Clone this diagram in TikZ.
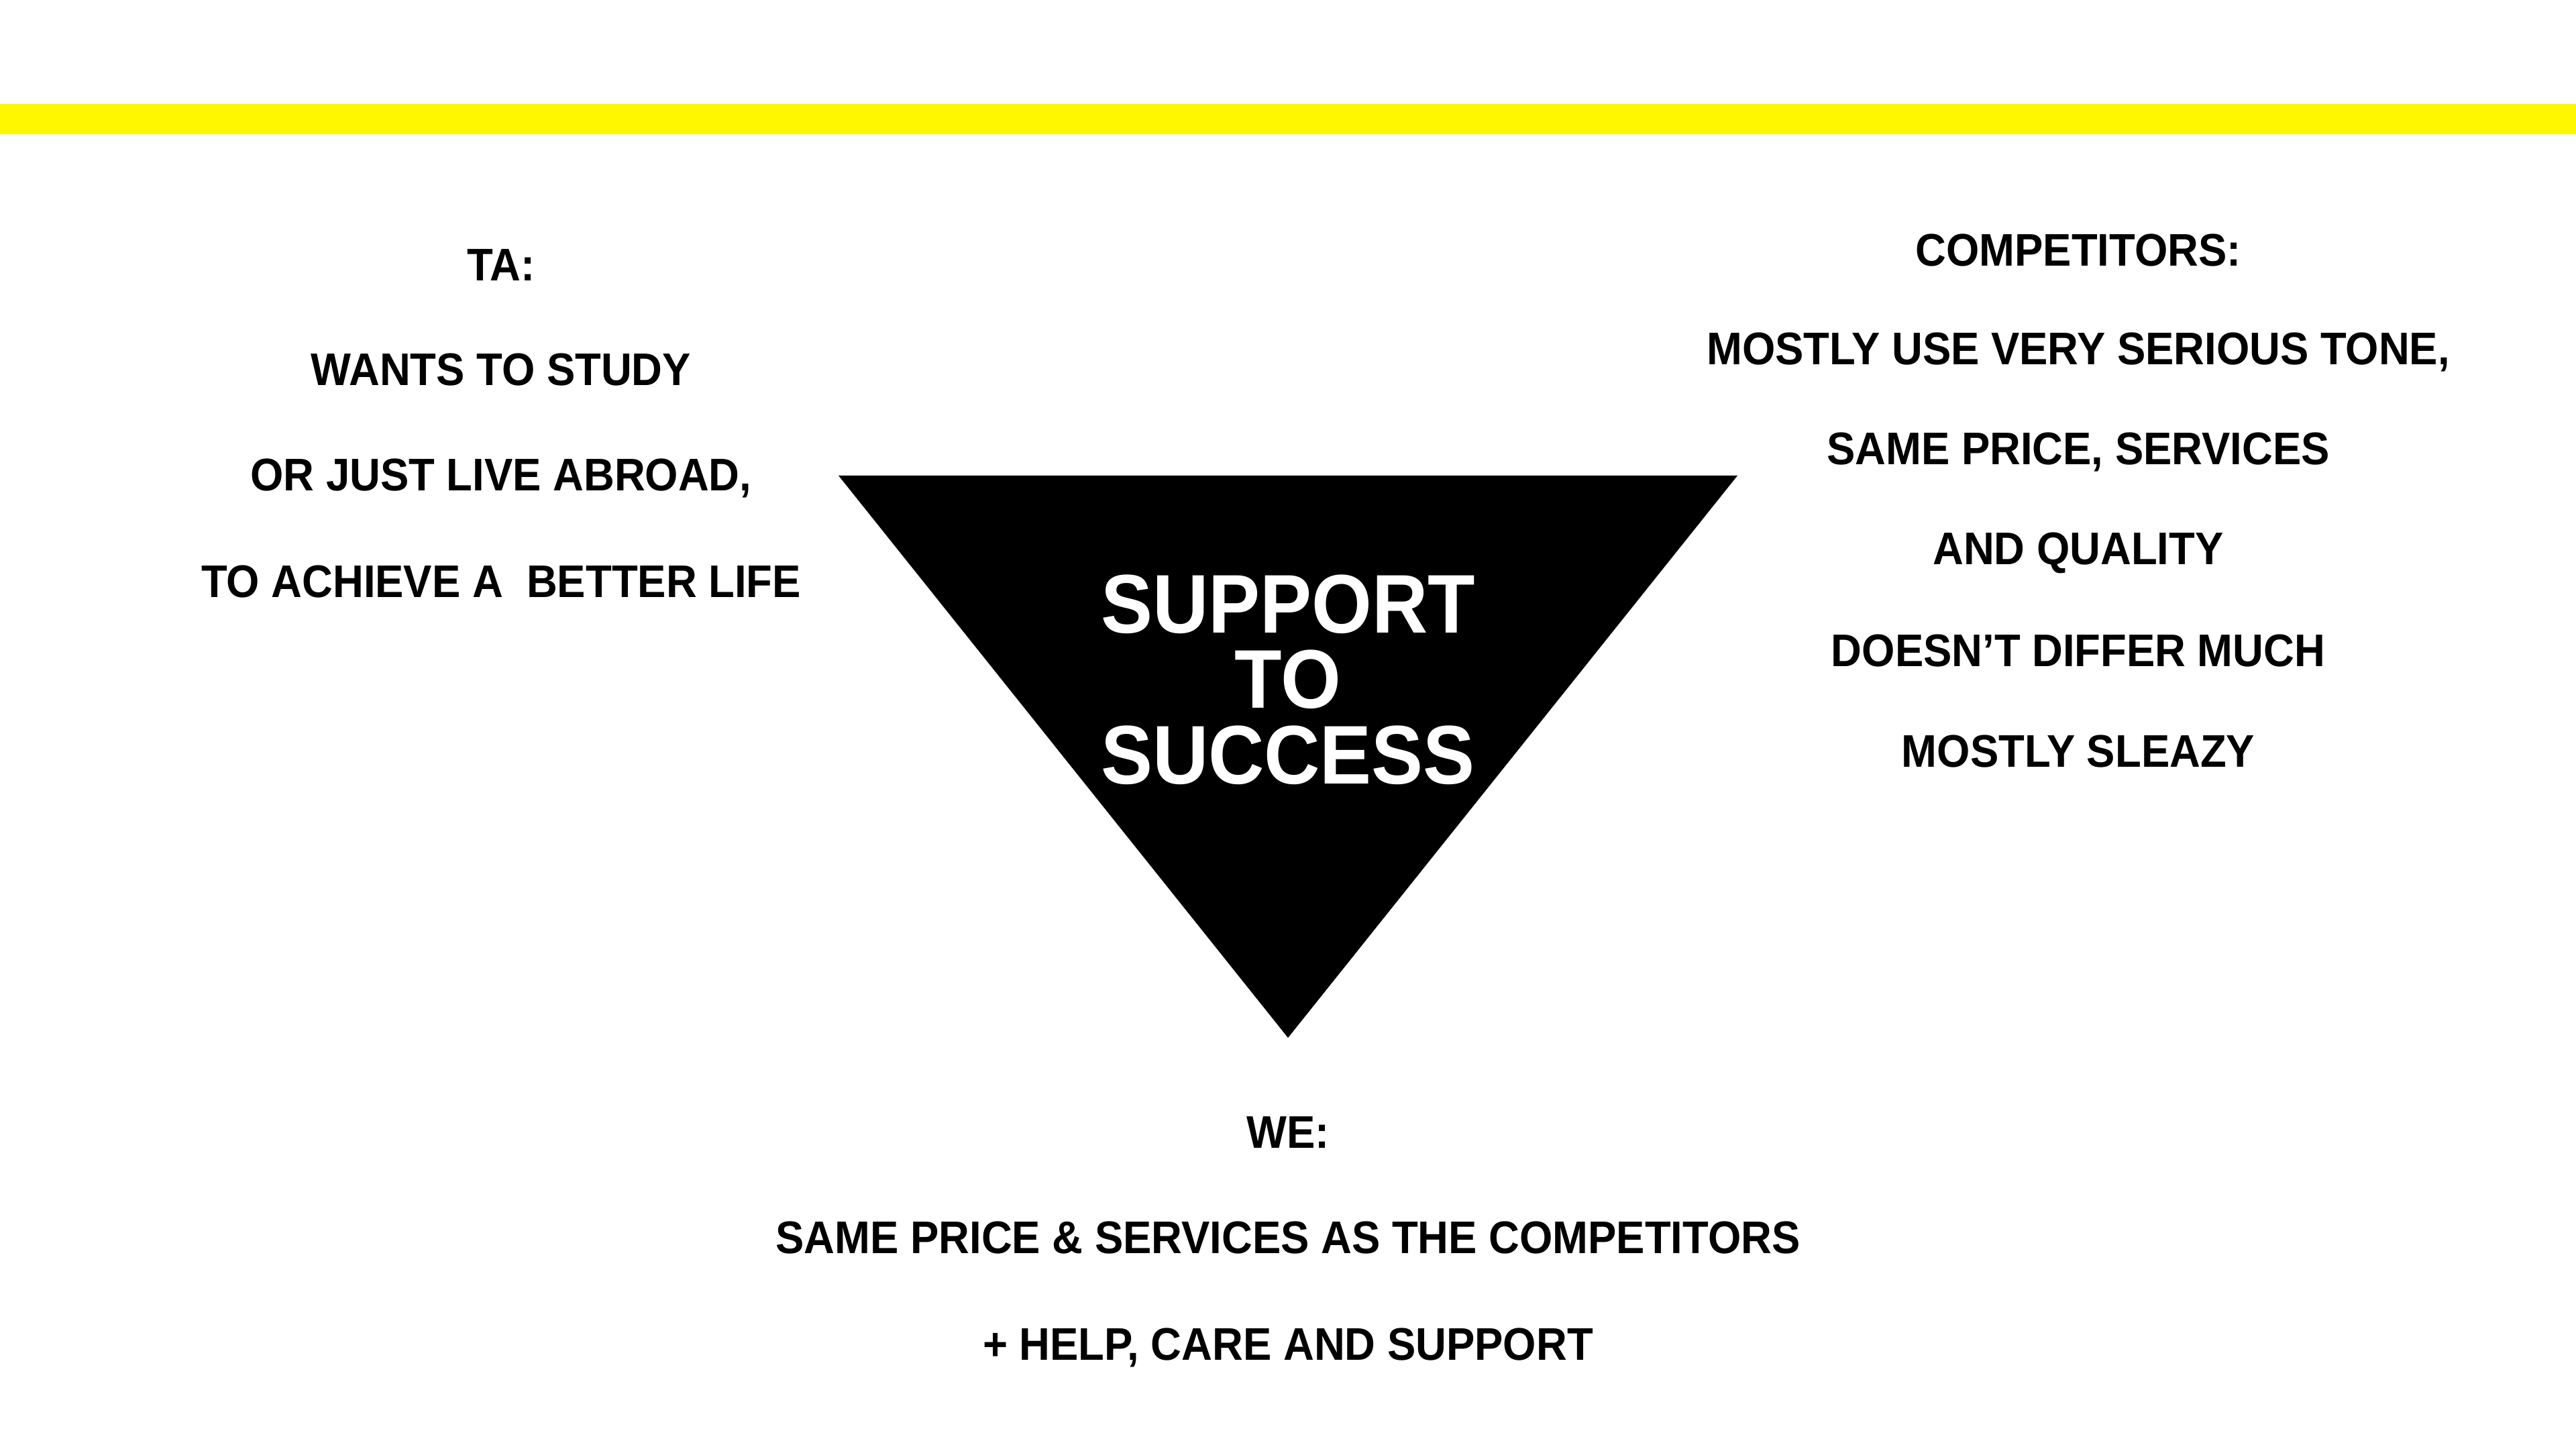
\documentclass[tikz,border=0pt]{standalone}
\usepackage{fontspec}
\newfontfamily\slidefont[FakeStretch=0.93]{Liberation Sans}
\usepackage{tikz}
\definecolor{barYellow}{RGB}{255,247,0}

\begin{document}
\begin{tikzpicture}[
	every node/.style={inner sep=0pt, anchor=base},
	txt/.style={font=\slidefont\bfseries\fontsize{19.4}{23}\selectfont},
	big/.style={font=\slidefont\bfseries\fontsize{35.3}{32}\selectfont, text=white}]
	\useasboundingbox (0,0) rectangle (38.4,21.6);
	% yellow stripe
	\fill[barYellow] (0,19.60) rectangle (38.4,20.05);
	% triangle
	\coordinate (tl) at (12.50,14.51);
	\coordinate (tr) at (25.90,14.51);
	\coordinate (tip) at (19.20,6.13);
	\fill[black] (tl) -- (tr) -- (tip) -- cycle;
	\node[big] (s1) at (19.20,12.16) {SUPPORT};
	\node[big] (s2) at (19.20,11.04) {TO};
	\node[big] (s3) at (19.20,9.91) {SUCCESS};
	% target audience
	\node[txt] (ta) at (7.47,17.41) {TA:};
	\node[txt] (ta1) at (7.47,15.85) {WANTS TO STUDY};
	\node[txt] (ta2) at (7.47,14.28) {OR JUST LIVE ABROAD,};
	\node[txt] (ta3) at (7.47,12.69) {TO ACHIEVE A~ BETTER LIFE};
	% competitors
	\node[txt] (comp) at (30.98,17.63) {COMPETITORS:};
	\node[txt] (comp1) at (30.98,16.16) {MOSTLY USE VERY SERIOUS TONE,};
	\node[txt] (comp2) at (30.98,14.67) {SAME PRICE, SERVICES};
	\node[txt] (comp3) at (30.98,13.18) {AND QUALITY};
	\node[txt] (comp4) at (30.98,11.66) {DOESN’T DIFFER MUCH};
	\node[txt] (comp5) at (30.98,10.16) {MOSTLY SLEAZY};
	% we
	\node[txt] (we) at (19.20,4.48) {WE:};
	\node[txt] (we1) at (19.20,2.91) {SAME PRICE \& SERVICES AS THE COMPETITORS};
	\node[txt] (we2) at (19.20,1.32) {+ HELP, CARE AND SUPPORT};
\end{tikzpicture}
\end{document}
